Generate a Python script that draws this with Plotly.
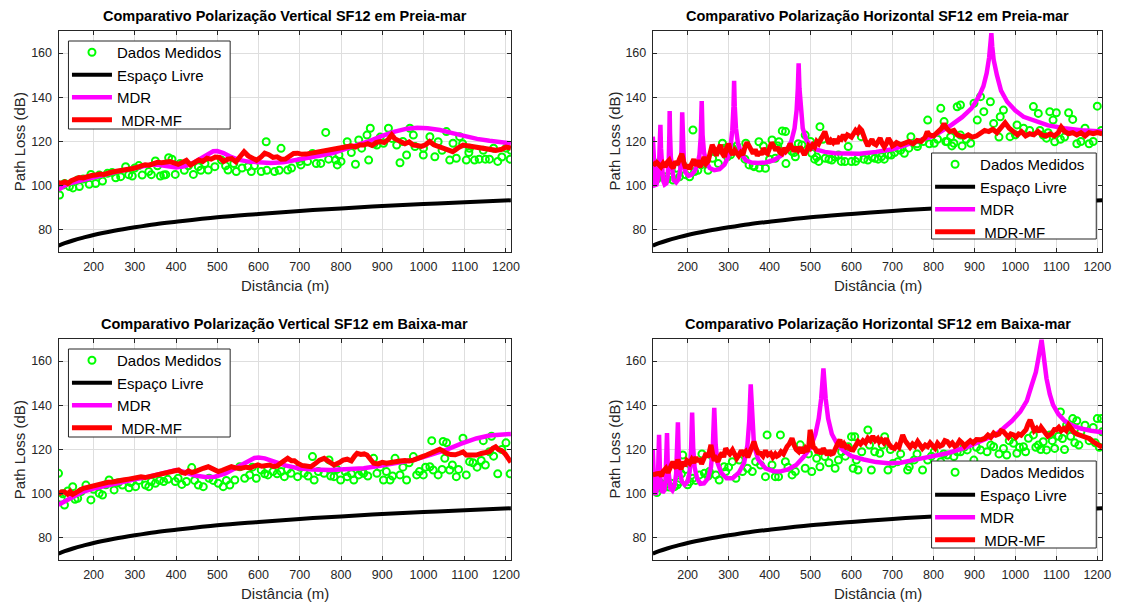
import plotly.graph_objects as go

# ---------------------------------------------------------------------------
# Free-space reference (same link in all four panels)
# ---------------------------------------------------------------------------
FS_D = [115, 130, 150, 175, 200, 250, 300, 350, 400, 500, 600, 700, 800, 900, 1000, 1100, 1212]
FS_PL = [72.9, 74.0, 75.2, 76.5, 77.7, 79.6, 81.2, 82.6, 83.7, 85.7, 87.2, 88.6, 89.7, 90.8, 91.7, 92.5, 93.4]

# ---------------------------------------------------------------------------
# Vertical polarisation, high tide (Preia-mar)
# ---------------------------------------------------------------------------
VP_MED_D = [117.4, 125.4, 130, 141.4, 150, 161.5, 165.5, 175, 189.5, 193.5, 205, 213.6, 221.6, 233.6, 245,
            253.7, 265.7, 277.7, 285, 293.8, 300, 309.8, 317.8, 333.9, 340, 349.9, 355, 362, 370, 375, 382,
            390, 398, 410, 420, 430, 442, 454, 460, 470, 478, 494, 510, 520, 526, 540, 546, 560, 574.4, 582.5,
            590, 606.5, 618.5, 620, 638.6, 650, 654.6, 670.7, 680, 700, 702.7, 718.8, 730.8, 740, 750.9, 762.9,
            770, 787, 791, 795, 800, 815, 825, 835, 843, 850, 863, 867, 871, 880, 887, 895, 903, 915, 923, 935,
            943, 950, 959, 967, 975.4, 979.4, 999.5, 1000, 1015.5, 1027.5, 1035.5, 1045, 1055.6, 1063.6,
            1071.6, 1079.6, 1087.7, 1095, 1103.7, 1110, 1111.7, 1123.7, 1135, 1145, 1150, 1160, 1170, 1180,
            1190, 1200, 1210, 1212]
VP_MED = [95.8, 100.3, 101, 99.6, 99, 102.6, 99.6, 103, 100.6, 105.1, 101, 104.8, 102.1, 105.6, 106,
          103.6, 104.1, 108.6, 105, 104.4, 108, 109.1, 104.8, 106.4, 105, 111.2, 109, 104.4, 104.8, 105, 112.7,
          112, 105.1, 110.1, 107, 109, 105.1, 108.6, 107, 110.1, 107.1, 108.6, 111.6, 109, 107.1, 110, 106.4,
          108, 108.6, 106.4, 109, 106.4, 119.9, 107, 106.4, 107, 116.9, 107.1, 108, 111, 109.4, 110.9, 114.6,
          110, 110.1, 124.1, 112, 111.6, 109.4, 113.9, 111, 119.9, 115, 109.7, 120.7, 117, 122.9, 111.6, 126,
          119, 118.4, 122, 119.2, 126, 121.4, 118.4, 110.4, 120, 113.9, 126, 122.9, 117.7, 113.9, 117, 122.2,
          113.1, 119.9, 116, 124.5, 111.6, 119.2, 112.4, 122.2, 119, 111.6, 115, 116.9, 111.6, 112, 116, 112,
          112, 117, 111, 113, 117, 112, 116]

VP_MDR_D = [115, 125, 140, 160, 180, 200, 230, 260, 290, 320, 340, 360, 380, 400, 420, 440, 460, 475, 490,
            500, 515, 530, 550, 575, 600, 630, 660, 690, 720, 750, 780, 810, 840, 870, 900, 930, 960, 985,
            1010, 1040, 1070, 1100, 1130, 1160, 1190, 1212]
VP_MDR = [98, 99.5, 101, 102, 103, 104, 105.3, 106.5, 107.6, 109, 109.6, 109.4, 108.6, 108.3, 108.8, 110.2,
          112.3, 114.2, 115.6, 115.7, 114.8, 113.3, 111.8, 110.9, 110.5, 110.3, 110.6, 111.5, 112.6, 113.6,
          114.8, 116.6, 118.3, 120.3, 122.5, 124.5, 125.8, 126.2, 126, 125.2, 123.8, 122.4, 121.2, 120.3,
          119.6, 119.2]

VP_MF_D = [115, 122, 130, 138, 146, 155, 165, 175, 185, 195, 205, 215, 225, 235, 245, 255, 265, 275, 285,
           295, 305, 315, 325, 335, 345, 355, 365, 375, 385, 395, 405, 415, 425, 435, 445, 455, 465, 475, 485,
           495, 505, 515, 525, 535, 545, 555, 565, 575, 585, 595, 605, 615, 625, 635, 645, 655, 665, 675, 685,
           695, 705, 715, 725, 735, 745, 755, 765, 775, 785, 795, 805, 815, 825, 835, 845, 855, 865, 875, 885,
           895, 905, 915, 923, 930, 943, 955, 965, 975, 985, 995, 1005, 1015, 1025, 1039, 1050, 1060, 1071,
           1083, 1096, 1110, 1128, 1145, 1160, 1175, 1190, 1200, 1212]
VP_MF = [101.5, 101, 101.8, 101, 102.3, 102.8, 103.7, 103.5, 104.3, 104.6, 104.8, 105.3, 105.1, 105.8, 106.2,
         106.5, 106.7, 107, 107.1, 107.8, 108.3, 108.8, 109.5, 109.3, 110, 110.6, 110.4, 110.8, 110.9, 110.3,
         109.7, 110.5, 111.5, 109.4, 110.2, 111.6, 111, 112.4, 112, 113, 112.8, 111, 112, 112.3, 110.8, 113.5,
         115.4, 113.5, 112.4, 111.5, 112.8, 114.7, 114, 112.8, 113.1, 112, 112.1, 113.2, 114.6, 114.7, 114.2,
         114.3, 114.6, 115.1, 115.4, 115.6, 115.9, 116.2, 116.4, 116.7, 117, 117.3, 118, 117.5, 118.4, 118.4,
         119, 118.2, 119.5, 120, 119.5, 121, 123, 121.3, 120, 119, 119.8, 118.4, 118.2, 117.8, 118.5, 120,
         118.5, 117.7, 116.6, 116.3, 115.4, 117, 118.4, 118, 117.5, 117, 116.5, 116, 116.5, 117.5, 117]

# ---------------------------------------------------------------------------
# Horizontal polarisation, high tide (Preia-mar)
# ---------------------------------------------------------------------------
HP_MED_D = [116, 118, 120, 125, 128, 135, 144, 150, 160, 164, 172, 180, 188, 195, 205, 213, 217, 225, 233,
            241, 250, 261, 269, 275, 285, 290, 297, 305, 310, 320, 326, 340, 342, 350, 360, 362, 374, 375, 385,
            390, 400, 406, 414, 420, 423, 431, 439, 440, 455, 460, 463, 470, 479, 487, 500, 503, 510, 515, 520,
            523, 530, 536, 545, 552, 560, 568, 575, 584, 592, 600, 610, 616, 624, 630, 640, 650, 657, 665, 673,
            680, 690, 697, 705, 713, 720, 729, 740, 745, 760, 761, 775, 786, 790, 802, 810, 818, 826, 830, 834,
            842, 845, 850, 858, 866, 866, 870, 880, 891, 899, 907, 915, 923, 939, 947, 960, 963, 971, 987, 1000,
            1004, 1020, 1035, 1044, 1056, 1060, 1068, 1076, 1080, 1084, 1092, 1096, 1100, 1110, 1120, 1130,
            1140, 1150, 1160, 1170, 1180, 1190, 1200, 1210]
HP_MED = [110.9, 109, 109.4, 103, 105.6, 104, 104.1, 103, 107, 102.6, 107.9, 104, 109.4, 105, 104, 125.2,
          106.4, 107, 109.4, 110.9, 107, 112.4, 115.4, 110, 119.2, 117, 113.1, 114, 116.9, 118, 115.4, 112,
          119.2, 109.4, 109, 108.6, 119.9, 108, 118, 107.9, 112, 120.7, 112.4, 118, 119.9, 124.8, 124.5, 110,
          115.4, 115, 113.1, 119, 118.4, 122.9, 120, 114.7, 112, 113, 111, 126.7, 121, 112.4, 112, 111.6, 113,
          113.9, 111, 110.9, 117.7, 110.9, 111, 112.4, 122.2, 112, 111.6, 113, 112.4, 112, 113.1, 112, 114,
          113.9, 115, 116.9, 116, 114.7, 117, 122.2, 119, 117.7, 120, 129.7, 119, 119.2, 121, 135, 129, 120,
          119.9, 122.2, 118, 119.2, 135.7, 136.5, 122.9, 118, 121, 119.2, 137.3, 129.7, 140.3, 133.5, 138,
          128.2, 122, 131.2, 134.2, 122.2, 123, 127.5, 126, 125, 135.8, 132.7, 125, 122.9, 121.5, 124, 133.5,
          129.7, 119.9, 133, 121, 122, 133, 130, 119, 120, 126, 119, 120, 136, 125]

HP_MDR_D = [115, 117, 119, 121, 124, 127, 130, 132, 133.6, 135, 137, 140, 144, 148, 151, 154, 155.5, 156.2,
            157, 159, 162, 166, 172, 178, 182, 185, 186.8, 188.5, 191, 195, 202, 209, 217, 224, 229, 232,
            234.4, 236.5, 240, 246, 254, 265, 278, 290, 299, 305, 309, 312, 313.5, 315, 318, 323, 331, 342,
            356, 372, 390, 410, 428, 443, 453, 461, 466, 469, 471, 473, 476, 481, 489, 500, 515, 535, 560, 590,
            620, 660, 700, 750, 800, 840, 870, 893, 910, 922, 930, 936, 939.5, 941.4, 943.5, 947, 955, 965,
            980, 1000, 1020, 1050, 1080, 1120, 1160, 1212]
HP_MDR = [122.2, 112, 103, 100.3, 100.5, 103, 108, 116, 127.5, 117, 108, 102.5, 100.5, 101, 104, 112, 124,
          133.8, 124, 113, 106, 102.5, 101.5, 103, 107, 116, 133.2, 118, 110, 106, 104.5, 104.8, 106.5, 109.5,
          114, 122, 138.3, 123, 115, 110.5, 108, 107, 107.5, 109.5, 113, 118, 125, 136, 147.5, 136, 126, 119,
          114.5, 111.5, 110.5, 110.3, 110.5, 111.5, 113.5, 116.5, 120, 126, 134, 144, 155.4, 144, 134, 126,
          121, 118, 116.3, 115.3, 114.7, 114.5, 114.5, 115.3, 116.5, 119.5, 122.5, 127, 131, 135, 140, 145,
          151, 158, 164, 169, 163, 157, 150, 143, 138, 134, 131.2, 129, 127.3, 126, 125.1, 124.5]

HP_MF_D = [115, 120, 125, 130, 135, 140, 145, 150, 155, 160, 165, 170, 175, 180, 186, 190, 195, 200, 205,
           210, 215, 220, 225, 230, 235, 240, 245, 250, 255, 260, 265, 270, 275, 280, 285, 290, 295, 300, 305,
           310, 315, 320, 325, 330, 335, 340, 345, 350, 355, 360, 365, 370, 375, 380, 385, 390, 395, 400, 405,
           410, 415, 420, 425, 430, 435, 440, 445, 450, 455, 460, 465, 470, 475, 480, 485, 490, 495, 500, 505,
           510, 515, 520, 525, 530, 535, 540, 545, 550, 555, 560, 565, 570, 575, 580, 585, 590, 595, 600, 605,
           610, 615, 620, 625, 630, 635, 640, 645, 650, 655, 660, 665, 670, 675, 680, 685, 690, 695, 700, 705,
           710, 720, 730, 740, 750, 760, 770, 780, 785, 790, 800, 810, 820, 826, 832, 840, 850, 858, 866, 875,
           885, 895, 905, 915, 925, 935, 945, 955, 965, 975, 985, 995, 1005, 1015, 1025, 1035, 1045, 1055,
           1065, 1075, 1085, 1095, 1105, 1112, 1120, 1130, 1140, 1150, 1160, 1170, 1180, 1190, 1200, 1212]
HP_MF = [110.5, 109.8, 110.5, 109.5, 108.5, 110, 108.5, 110.5, 111.5, 109, 108, 111, 109.5, 112, 114.5, 111,
         108, 109.5, 107.5, 110, 112, 109, 111.5, 108.5, 110, 113, 110, 111, 114, 118.5, 116.5, 113.5, 116.5,
         118.5, 114.5, 113, 117, 119, 115.5, 114, 116, 115, 113.5, 115, 114, 117.5, 119.5, 118, 116, 114.5,
         116.5, 113.5, 115.5, 114, 117, 115, 114.5, 117, 119.5, 118, 116, 117.5, 115, 114.5, 117, 115.5, 116.5,
         119, 117, 115.5, 117.5, 116, 117.5, 116, 114, 115.5, 118, 117, 118.5, 117.5, 120, 119, 121, 122.5,
         124.5, 121.5, 119, 120.5, 119.5, 121, 119, 121.5, 121, 123, 121.5, 123, 122.5, 122, 123.5, 125, 124,
         126, 125, 122, 120, 118, 119.5, 121, 119, 118.5, 120, 121.5, 119, 117.5, 119, 121.5, 120, 118, 118.5,
         119.5, 118.5, 119, 120, 119, 120.5, 120, 122, 124.5, 123, 122.5, 124, 126, 128, 126, 124.5, 125, 123,
         122.5, 122, 123, 122, 122.5, 123.5, 125, 124.5, 125.5, 124, 126, 128.5, 126, 124.5, 123, 124.5, 122.5,
         123.5, 123, 124.5, 123, 122.5, 123.5, 122.5, 124, 126.5, 124.5, 123.5, 124, 123, 124, 122.5, 124,
         123.5, 124, 123.5]

# ---------------------------------------------------------------------------
# Vertical polarisation, low tide (Baixa-mar)
# ---------------------------------------------------------------------------
VB_MED_D = [115, 121.4, 125, 129.4, 137.4, 149.4, 155, 161.5, 170, 181.5, 193.5, 200, 213.6, 221.6, 230,
            237.6, 249.7, 260, 269.7, 285.8, 290, 301.8, 310, 325.9, 333.9, 340, 349.9, 360, 370, 380, 398, 405,
            414, 425, 438, 445, 454, 466, 480, 490, 502.3, 514.3, 522, 530.3, 542.4, 554.4, 566.4, 578.4, 585,
            594.5, 606.5, 615, 622.6, 635, 645, 654.6, 662.7, 670, 678.7, 694.7, 700, 710.8, 720, 730.8, 734.8,
            745, 758.9, 770.9, 775, 783, 790, 799, 810, 815, 825, 831, 843, 850, 855, 865, 879, 887, 895, 903,
            910, 919, 925, 931, 943, 950, 959, 965, 975.4, 983.4, 990, 999.5, 1005, 1015.5, 1020, 1023.5,
            1035.5, 1045, 1047.6, 1051.6, 1056, 1063.6, 1070, 1079.6, 1085, 1095.7, 1103.7, 1111.7, 1120,
            1130, 1140, 1145, 1150, 1160, 1165, 1170, 1180, 1190, 1200, 1210]
VB_MED = [109.2, 97.9, 100, 94.9, 101.2, 103.2, 97.5, 97.9, 101, 103.9, 97.2, 102, 100.2, 99.4, 104, 106.2,
          101.7, 105, 103.9, 102.7, 105, 103.2, 106, 103.9, 103.2, 105.5, 104.7, 106, 105.5, 106.5, 105.5, 107,
          104.2, 105.5, 111.8, 106, 103.9, 103.2, 107, 106, 104.7, 103.2, 106, 103.9, 106.2, 112.2, 107, 108.5,
          112, 107, 110.7, 109, 108.5, 110, 109, 110, 107.7, 111, 109.2, 107.7, 112, 109.2, 108, 116.8, 106.2,
          110, 109.2, 115.3, 108, 107.7, 111, 106.2, 110, 107.7, 109, 106.2, 108.5, 110, 109.2, 108, 116, 109.2,
          112, 106.2, 110, 106.2, 108, 116, 108.5, 112, 106.2, 114, 116.8, 108.5, 110, 108.5, 112, 112.2, 124,
          110.7, 108.5, 111, 123.6, 116, 123, 110.7, 113, 107.7, 111, 125.1, 108.5, 114.5, 114, 112, 115, 124,
          113, 119, 126, 117, 109, 120, 123, 109]

VB_MDR_D = [115, 130, 150, 173.5, 200, 253.7, 300, 334, 360, 385, 400, 420, 446, 470, 494, 520, 542, 560,
            575, 590, 600, 615, 638, 665, 695, 730, 775, 815, 855, 895, 935, 975, 1015, 1055, 1090, 1128,
            1160, 1190, 1212]
VB_MDR = [95, 96.5, 98.5, 100.9, 102.3, 104.7, 106.5, 107.7, 109, 110.4, 110.7, 109.8, 108.2, 107.6, 107.7,
          109.2, 111.5, 113.5, 115.2, 116.2, 116.4, 116, 114.5, 112.8, 111.5, 110.9, 110.7, 110.9, 111.5,
          112.6, 113.8, 115.2, 117.5, 119.8, 122.5, 125, 126.3, 126.9, 127]

VB_MF_D = [115, 122, 129.4, 137, 143, 149.4, 157, 165.5, 175, 185, 195, 205, 213.6, 225, 235, 245, 255, 265,
           275, 285, 293.8, 305, 315, 325, 334, 345, 355, 366, 376, 385, 395, 406, 414, 422, 430, 438, 446,
           455, 466, 478, 490, 502.3, 512, 522, 534.3, 546, 558.4, 570, 580, 590, 598.5, 608, 618, 626.6, 636,
           645, 655, 662, 670.7, 680, 687, 694.7, 705, 715, 726.8, 736, 748, 759, 771, 783, 795, 805, 815, 825,
           833, 839, 848, 856, 863, 871, 879, 890, 900, 910, 919, 930, 943, 955, 965, 975.4, 986, 997, 1007.5,
           1018, 1028, 1039.6, 1047, 1055.6, 1066, 1077, 1087.7, 1096, 1103.7, 1115, 1128, 1140, 1150, 1160,
           1168, 1175, 1182, 1190, 1198, 1205, 1212]
VB_MF = [99.7, 100.8, 100.9, 99.8, 101, 99.7, 100.5, 101.7, 102.4, 102.9, 103.4, 103.8, 104.2, 104.8, 105.2,
         105.3, 105.8, 106.2, 106.3, 106.6, 107, 107.1, 107.6, 107.3, 107.7, 108, 108.6, 108.8, 109.3, 109.8,
         110.5, 110.7, 109.6, 109.2, 110.3, 109.6, 110, 110.8, 111.5, 112.2, 111, 110, 110.6, 111.3, 112.2,
         111.6, 111.5, 112, 111.7, 112.5, 113, 112.4, 112.6, 113, 112.3, 112.5, 114, 115, 116, 114.9, 114.9,
         113.8, 112.8, 112.5, 112.2, 113.4, 115.2, 116, 114.4, 113, 114, 115.2, 115.6, 114.8, 117, 118.3,
         117.8, 118, 117.5, 115.5, 113.8, 113.5, 114.2, 113.8, 114.2, 114.5, 114.8, 115, 114.8, 115.2, 116.3,
         116.8, 117.5, 118.3, 118.8, 120.1, 119.4, 118.3, 117.7, 117.6, 118.3, 118.9, 117.5, 117.6, 117.5,
         118.2, 118.6, 119, 120.5, 121.2, 120, 119.5, 118, 116, 114.2]

# ---------------------------------------------------------------------------
# Horizontal polarisation, low tide (Baixa-mar)
# ---------------------------------------------------------------------------
HB_MED_D = [114, 116, 118, 120, 125, 133, 140, 145, 155, 160, 168, 175, 180, 185, 188, 195, 200, 205, 213,
            220, 229, 235, 241, 250, 253, 260, 269, 277, 289, 293, 300, 309, 318, 326, 334, 346, 358, 366, 378,
            390, 394, 406, 414, 422, 426.5, 438.6, 445, 455, 463, 475, 487, 495, 503, 515, 523, 535, 545, 560,
            568, 576, 585, 592, 600, 604, 608, 612, 616, 625, 640, 644, 648.5, 656.6, 669, 675, 681, 689, 695,
            701, 713, 720, 737, 741, 753, 760, 773.5, 786, 795, 802, 818, 825, 834, 850, 858, 866, 875, 882.5,
            898.7, 905, 915, 931, 940, 947, 960, 971, 979, 985, 995.5, 1003.6, 1010, 1019.7, 1025, 1032, 1044,
            1050, 1056, 1062, 1068, 1076, 1084, 1090, 1096, 1105, 1110, 1115, 1120, 1125, 1130, 1135, 1140,
            1145, 1150, 1155, 1160, 1170, 1180, 1190, 1195, 1200, 1205, 1210, 1212]
HB_MED = [105.4, 103, 106, 101.7, 100.5, 105, 102.4, 104, 103, 104.7, 103.2, 104, 105.4, 109, 117.5, 111, 104,
          105.4, 107, 106, 108.5, 118, 109.2, 108, 110, 117, 108.5, 106.2, 112.2, 110, 112, 114.5, 107, 115.2,
          110, 111.5, 110, 114.5, 113, 107.7, 126.6, 113, 107.7, 107.7, 126.6, 114.5, 112, 108.5, 110, 122.1,
          111.5, 118, 110, 116, 112.2, 116.8, 114, 111.5, 115.2, 119, 117, 121.3, 125.8, 111.5, 125.8, 115.2,
          110.7, 119, 128.8, 122, 110.7, 119, 118.3, 122, 125.8, 110.7, 120, 113.7, 114.5, 118, 110.7, 112.2,
          115.3, 118, 110.7, 115.2, 117, 119, 114.5, 118, 117.5, 116.8, 119, 119, 121, 119.8, 115.2, 121, 119.8,
          119, 122, 121.3, 118, 120.5, 117.5, 124, 122.8, 118.3, 121, 121.3, 119, 125.1, 126.6, 121, 122, 120,
          123.5, 119.8, 126.6, 124, 120.5, 126, 137, 125, 120, 131, 130, 126, 134, 123, 133, 122, 128, 131, 124,
          130, 123, 134, 121, 134, 128]

HB_MDR_D = [115, 117, 119, 122, 125, 128, 130.3, 132.5, 135, 139, 143, 146, 148, 149.7, 151.5, 154, 158,
            163, 168, 172, 174.5, 176.3, 178, 181, 186, 193, 200, 205, 208.5, 211, 213.5, 217, 223, 231, 240,
            250, 257, 261.5, 265, 268.5, 273, 282, 295, 310, 325, 338, 346, 350.5, 354, 357.5, 362, 372, 390,
            410, 425, 445, 465, 485, 500, 512, 520, 526, 531.5, 537, 543, 552, 565, 580, 600, 630, 660, 690,
            720, 753, 800, 834, 880, 915, 950, 971, 992, 1012, 1028, 1040, 1050, 1056, 1060, 1064, 1068, 1072,
            1076, 1084, 1092, 1105, 1120, 1140, 1160, 1185, 1212]
HB_MDR = [119.8, 108, 101, 99.5, 102, 110, 126.6, 110, 103, 100.5, 101.5, 106, 114, 127.4, 113, 106, 102.5,
          101.5, 103.5, 109, 118, 132.3, 119, 110, 105.5, 104, 105.5, 110, 120, 136.7, 121, 112, 107, 104.5,
          104.7, 107, 112, 121, 138.9, 122, 114, 109.5, 107, 107, 109.5, 114, 122, 133, 149.5, 133, 122, 115.5,
          111.5, 110.2, 110, 111, 113, 117, 121, 127, 134, 143, 156.7, 143, 134, 127, 122.5, 119.5, 117, 115.5,
          114.3, 113.8, 114, 115.3, 116.8, 118.3, 121, 123.6, 126.5, 129.6, 133, 137.1, 142, 149.2, 155, 161,
          165.5, 169.6, 164, 158, 152.2, 145, 140.2, 136, 133, 130.8, 129.5, 128.5, 127.8]

HB_MF_D = [115, 120, 125, 131, 136, 140, 147, 152, 158, 164, 168, 172, 176, 180, 184, 188, 193, 198, 205,
           210, 215, 220, 225, 229, 234, 240, 245, 250, 254, 257, 261, 265, 269, 274, 279, 284, 288, 293, 298,
           303, 309.5, 315, 320, 325.6, 331, 336, 341.7, 347, 352, 357, 362, 367, 372, 378, 384, 390, 396,
           402.7, 408, 414, 418, 422.5, 428, 434, 438, 442.7, 448, 454.8, 460, 465, 471, 476, 481, 487, 492,
           496, 499, 503, 507, 511.3, 516, 521, 526, 531, 535.5, 541, 546, 551, 555.7, 561, 566, 571.8, 577,
           582, 587, 592, 598, 604, 610, 616, 622, 628, 634, 640, 646, 652, 658, 664, 668, 673, 679, 685, 691,
           698, 705, 710, 716, 720, 725, 731, 737, 743, 749, 755, 761.5, 767, 773, 780, 786, 792, 798, 804,
           810, 816, 822, 828, 834, 840, 846, 852, 858, 864, 870, 876, 882.5, 890, 897, 905, 915, 925, 933,
           940, 947, 953, 960, 965, 971, 977, 983, 989, 995.5, 1001, 1008, 1014, 1020, 1026, 1031, 1036, 1041,
           1046, 1052, 1058, 1063, 1068, 1074, 1079, 1084, 1090, 1095, 1100, 1106, 1112, 1118, 1124, 1130,
           1136, 1142, 1150, 1160, 1170, 1180, 1190, 1200, 1212]
HB_MF = [108.5, 108.5, 109, 109.2, 108, 110, 111.5, 109.5, 112, 114.5, 112.5, 111.5, 115.5, 113, 111, 114.5,
         112.5, 115, 113.8, 115.5, 114, 116.5, 114.5, 116, 113.5, 116, 118.3, 116.5, 119, 122.1, 118, 115, 116,
         114.5, 117, 118.5, 116.5, 120.5, 119, 118, 119.8, 117.5, 116, 117.5, 119.5, 118, 119, 116.5, 118.5,
         121, 123.6, 120.5, 118.5, 118.3, 117, 119.5, 117.5, 118.3, 116.5, 118, 117, 117.5, 119, 118, 120,
         121.3, 122.5, 125.1, 122, 120, 119, 121, 118.5, 120.5, 119, 122, 128.9, 124, 121, 120.5, 118.5, 120,
         118, 120.5, 119, 117.5, 119.5, 118, 118.3, 121, 122.5, 124.4, 121, 122.5, 121, 121.3, 120, 119.8,
         121.5, 123.6, 122.5, 124, 123, 125.1, 124, 126, 124, 125, 123.5, 124.4, 123, 125, 122.5, 121, 120.5,
         122, 121, 123.5, 126.6, 124, 122.1, 121, 122.5, 121.5, 123.6, 122, 120.5, 122, 121.3, 123, 121.5,
         120.5, 122.8, 121.5, 122, 124, 123.6, 122, 123, 121.5, 122.1, 124, 123, 121.5, 122.8, 124, 123,
         124.5, 124.4, 125, 126.5, 125.5, 127.4, 126.5, 127, 128.5, 128.1, 127, 125.5, 127, 126.6, 125.5, 127,
         126.5, 128.1, 129, 131.5, 133.4, 131, 128.5, 129.6, 128, 130, 128.9, 127.5, 126, 126.6, 127.5, 129,
         128.9, 130, 128.5, 129.5, 128.5, 131, 129, 128, 127, 126.5, 125.5, 125, 123.5, 122.5, 121]

TITLES = [
    "Comparativo Polarização Vertical SF12 em Preia-mar",
    "Comparativo Polarização Horizontal SF12 em Preia-mar",
    "Comparativo Polarização Vertical SF12 em Baixa-mar",
    "Comparativo Polarização Horizontal SF12 em Baixa-mar",
]
SERIES_NAMES = ["Dados Medidos", "Espaço Livre", "MDR", "\u00a0MDR-MF"]
X_TICKS = [200, 300, 400, 500, 600, 700, 800, 900, 1000, 1100, 1200]
Y_TICKS = [80, 100, 120, 140, 160]

PANELS = [
    (VP_MED_D, VP_MED, VP_MDR_D, VP_MDR, VP_MF_D, VP_MF),
    (HP_MED_D, HP_MED, HP_MDR_D, HP_MDR, HP_MF_D, HP_MF),
    (VB_MED_D, VB_MED, VB_MDR_D, VB_MDR, VB_MF_D, VB_MF),
    (HB_MED_D, HB_MED, HB_MDR_D, HB_MDR, HB_MF_D, HB_MF),
]

# ---------------------------------------------------------------------------
# Layout in pixels: (left, right, top, bottom) of each axes box and legend box
# ---------------------------------------------------------------------------
W, H = 1138, 606
BOXES = [(59, 515, 31, 252), (658, 1111, 31, 252), (59, 515, 339, 560), (658, 1111, 339, 560)]
LEGEND_BOXES = [(69, 232, 41, 129), (939, 1105, 153, 239), (69, 232, 349, 437), (939, 1105, 461, 548)]

FONT = "Arial, 'Liberation Sans', Helvetica, sans-serif"
TXT = "#262626"
GRID = "#dedede"


def px(x):
    return x / W


def py(y):
    return 1 - y / H


fig = go.Figure()
annotations = []
shapes = []

for i, (med_d, med, mdr_d, mdr, mf_d, mf) in enumerate(PANELS):
    n = i + 1
    sfx = "" if n == 1 else str(n)
    xref, yref = "x" + sfx, "y" + sfx
    leg = "legend" + sfx

    common = dict(xaxis=xref, yaxis=yref, legend=leg)
    fig.add_trace(go.Scatter(x=med_d, y=med, mode="markers", name=SERIES_NAMES[0],
                             marker=dict(symbol="circle-open", size=7, color="#00ff00",
                                         line=dict(width=2, color="#00ff00")), **common))
    fig.add_trace(go.Scatter(x=FS_D, y=FS_PL, mode="lines", name=SERIES_NAMES[1],
                             line=dict(color="#000000", width=4, shape="spline"), **common))
    fig.add_trace(go.Scatter(x=mdr_d, y=mdr, mode="lines", name=SERIES_NAMES[2],
                             line=dict(color="#ff00ff", width=4.5), **common))
    fig.add_trace(go.Scatter(x=mf_d, y=mf, mode="lines", name=SERIES_NAMES[3],
                             line=dict(color="#ff0000", width=5), **common))

    l, r, t, b = BOXES[i]
    axis_common = dict(showgrid=True, gridcolor=GRID, gridwidth=1, zeroline=False,
                       showline=True, linecolor=TXT, linewidth=1, mirror="ticks",
                       ticks="inside", ticklen=4, tickcolor=TXT,
                       tickfont=dict(family=FONT, size=12.5, color=TXT))

    # legend frame: a white box above the data, entries drawn on top of it
    bl, br, bt, bb = LEGEND_BOXES[i]
    shapes.append(dict(type="rect", xref="paper", yref="paper", x0=px(bl), x1=px(br),
                       y0=py(bb), y1=py(bt), fillcolor="white",
                       line=dict(color=TXT, width=1), layer="above"))

    fig.update_layout(**{
        "xaxis" + sfx: dict(domain=[px(l), px(r)], anchor=yref, range=[115, 1212],
                            tickvals=X_TICKS, ticklabelstandoff=3, **axis_common),
        "yaxis" + sfx: dict(domain=[py(b), py(t)], anchor=xref, range=[70, 170],
                            tickvals=Y_TICKS, ticklabelstandoff=3, **axis_common),
        leg: dict(x=px(bl - 1.5), y=py(bt - 5), xanchor="left", yanchor="top",
                  bgcolor="rgba(0,0,0,0)", borderwidth=0, itemwidth=40,
                  font=dict(family=FONT, size=15, color="#000000"), tracegroupgap=0),
    })

    cx = (l + r) / 2
    annotations.append(dict(text="<b>" + TITLES[i] + "</b>", x=px(cx), y=py(t - 5), xref="paper",
                            yref="paper", xanchor="center", yanchor="bottom", showarrow=False,
                            font=dict(family=FONT, size=14.5, color="#000000")))
    annotations.append(dict(text="Distância (m)", x=px(cx), y=py(b + 33), xref="paper", yref="paper",
                            xanchor="center", yanchor="middle", showarrow=False,
                            font=dict(family=FONT, size=15, color=TXT)))
    annotations.append(dict(text="Path Loss (dB)", x=px(l - 39), y=py((t + b) / 2), xref="paper",
                            yref="paper", xanchor="center", yanchor="middle", textangle=-90,
                            showarrow=False, font=dict(family=FONT, size=15, color=TXT)))

fig.update_layout(width=W, height=H, margin=dict(l=0, r=0, t=0, b=0),
                  paper_bgcolor="white", plot_bgcolor="white", showlegend=True,
                  annotations=annotations, shapes=shapes)

fig.write_html("out.html")
